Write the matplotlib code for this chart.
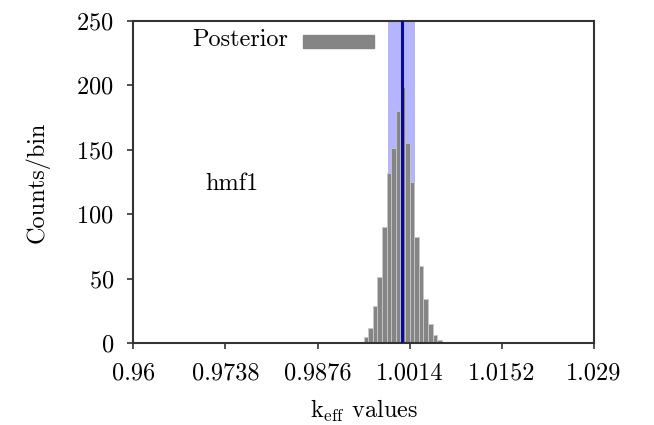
import numpy as np
import matplotlib
matplotlib.use("Agg")
import matplotlib.pyplot as plt
from matplotlib.patches import Patch, Rectangle
from matplotlib.legend_handler import HandlerPatch

plt.rcParams['font.family'] = 'serif'
plt.rcParams['font.serif'] = ['cmr10']
plt.rcParams['mathtext.fontset'] = 'cm'
plt.rcParams['axes.formatter.use_mathtext'] = True

# histogram of posterior keff samples, 100 bins over [0.96, 1.029]
x_min, x_max, n_bins = 0.96, 1.029, 100
first_bin = 49
counts = [1, 5, 12, 29, 51, 90, 132, 151, 180, 199, 155, 125, 82, 60, 34, 15, 6, 2]

# posterior mean and 1-sigma band
k_mean = 1.0002
k_sigma = 0.002

xticks = [0.96, 0.9738, 0.9876, 1.0014, 1.0152, 1.029]
xtick_labels = ['0.96', '0.9738', '0.9876', '1.0014', '1.0152', '1.029']
yticks = [0, 50, 100, 150, 200, 250]

fs = 17.5

edges = np.linspace(x_min, x_max, n_bins + 1)
width = edges[1] - edges[0]
lefts = edges[first_bin:first_bin + len(counts)]

fig = plt.figure(figsize=(6.54, 4.25), dpi=100)
ax = fig.add_axes([0.204, 0.193, 0.704, 0.758])

#1-sigma 区间和均值
ax.axvspan(k_mean - k_sigma, k_mean + k_sigma, color='#b4b4ff', zorder=0, lw=0)
ax.bar(lefts, counts, width=width, align='edge', color='#858585',
       edgecolor='#c8c8c8', linewidth=0.6, zorder=2, label='Posterior')
ax.axvline(k_mean, color='#0a0a9a', lw=2.2, zorder=3)

ax.set_xlim(x_min, x_max)
ax.set_ylim(0, 250)
ax.set_xticks(xticks)
ax.set_xticklabels(xtick_labels)
ax.set_yticks(yticks)
ax.tick_params(axis='both', labelsize=fs, direction='out', length=4, width=1.2, color='#333333')
ax.tick_params(axis='x', pad=10)
ax.tick_params(axis='y', pad=10)

for s in ax.spines.values():
    s.set_color('#333333')
    s.set_linewidth(1.5)

ax.set_xlabel(r'k$_{\mathrm{eff}}$ values', fontsize=fs, labelpad=9.5)
ax.set_ylabel('Counts/bin', fontsize=fs, labelpad=19.5)

ax.text(0.155, 0.495, 'hmf1', transform=ax.transAxes, fontsize=fs, va='center', ha='left')


#图例色块：底边贴着基线
def key_box(legend, orig_handle, xdescent, ydescent, width, height, fontsize):
    return Rectangle((-xdescent, -ydescent - 0.07 * fontsize), width, 0.54 * fontsize)


handle = Patch(facecolor='#858585', edgecolor='#858585')
ax.legend([handle], ['Posterior'], loc='upper left', bbox_to_anchor=(0.127, 0.974),
          markerfirst=False, frameon=False, fontsize=fs, handlelength=2.9,
          handletextpad=0.64, borderpad=0, borderaxespad=0,
          handler_map={Patch: HandlerPatch(patch_func=key_box)})

plt.savefig('out.png', dpi=100)
